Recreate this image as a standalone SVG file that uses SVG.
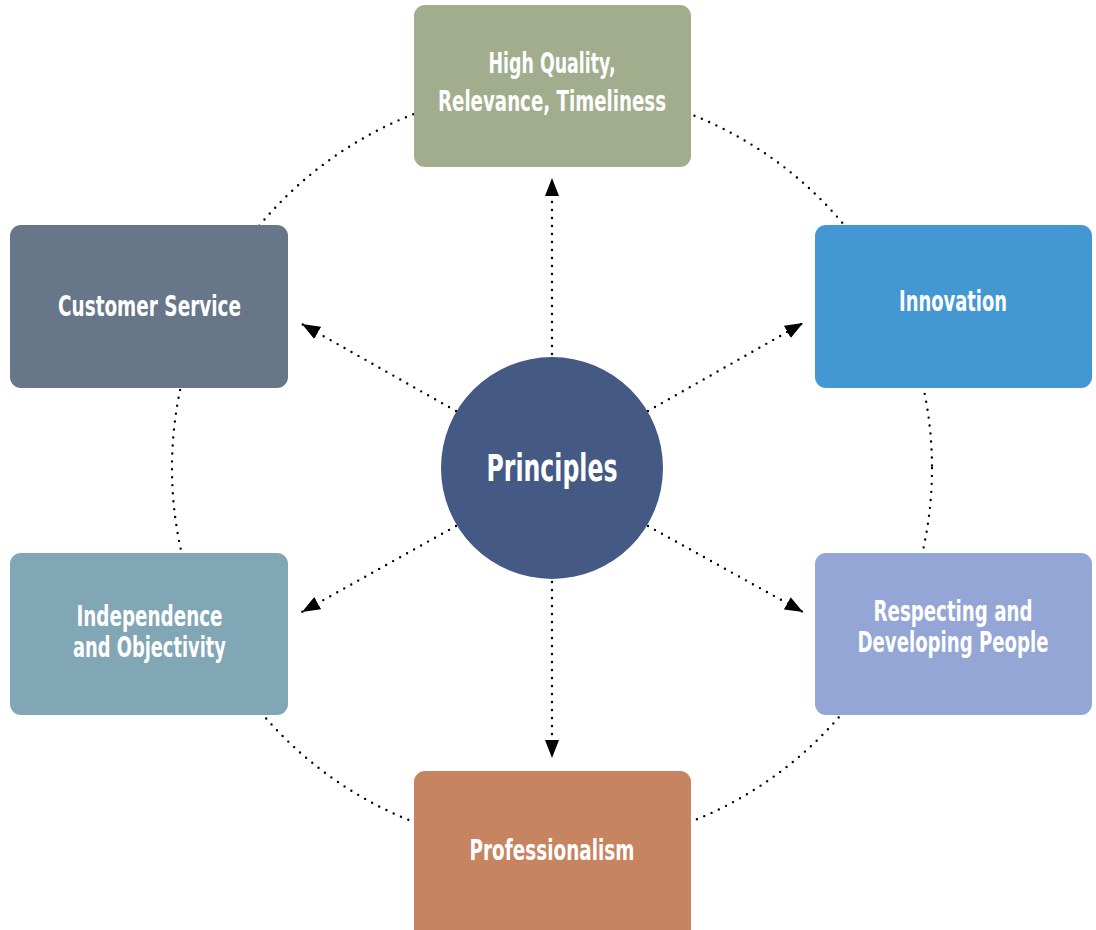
<svg xmlns="http://www.w3.org/2000/svg" width="1096" height="930" viewBox="0 0 1096 930">
<style>
.ring{fill:none;stroke:#000;stroke-width:2.4;stroke-linecap:round;stroke-dasharray:0 8}
.conn{fill:none;stroke:#000;stroke-width:2.4;stroke-linecap:round;stroke-dasharray:0 8}
.lbl{font-family:"DejaVu Sans Condensed","Liberation Sans Narrow","Liberation Sans",sans-serif;font-weight:bold;fill:#fff;text-anchor:middle;font-size:28px}
.big{font-size:37px}
</style>
<defs>
<marker id="ah" viewBox="0 0 18 14" refX="18" refY="7" markerWidth="18" markerHeight="14" markerUnits="userSpaceOnUse" orient="auto">
<path d="M0,0 L18,7 L0,14 Z" fill="#000"/>
</marker>
</defs>
<rect width="1096" height="930" fill="#fff"/>
<g id="connectors">
<circle class="ring" cx="552" cy="468" r="380"/>
<line class="conn" x1="552" y1="354" x2="552" y2="178" marker-end="url(#ah)"/>
<line class="conn" x1="552" y1="582" x2="552" y2="758" marker-end="url(#ah)"/>
<line class="conn" x1="456" y1="411" x2="302" y2="324" marker-end="url(#ah)"/>
<line class="conn" x1="648" y1="411" x2="803" y2="323" marker-end="url(#ah)"/>
<line class="conn" x1="456" y1="526" x2="302" y2="612" marker-end="url(#ah)"/>
<line class="conn" x1="648" y1="526" x2="803" y2="612" marker-end="url(#ah)"/>
</g>
<g id="node-quality">
<rect x="414" y="5" width="277" height="162" rx="11" fill="#A2AD8E"/>
<text class="lbl" x="552" y="73" textLength="127" lengthAdjust="spacingAndGlyphs">High Quality,</text>
<text class="lbl" x="552" y="111" textLength="228" lengthAdjust="spacingAndGlyphs">Relevance, Timeliness</text>
</g>
<g id="node-customer">
<rect x="10" y="225" width="278" height="163" rx="11" fill="#677789"/>
<text class="lbl" x="149.5" y="316" textLength="183" lengthAdjust="spacingAndGlyphs">Customer Service</text>
</g>
<g id="node-innovation">
<rect x="815" y="225" width="277" height="163" rx="11" fill="#4398D3"/>
<text class="lbl" x="953" y="311" textLength="108" lengthAdjust="spacingAndGlyphs">Innovation</text>
</g>
<g id="node-principles">
<circle cx="552" cy="468" r="111" fill="#455985"/>
<text class="lbl big" x="552" y="481" textLength="131" lengthAdjust="spacingAndGlyphs">Principles</text>
</g>
<g id="node-independence">
<rect x="10" y="553" width="278" height="162" rx="11" fill="#81A6B5"/>
<text class="lbl" x="149.5" y="626" textLength="146" lengthAdjust="spacingAndGlyphs">Independence</text>
<text class="lbl" x="149.5" y="657" textLength="153" lengthAdjust="spacingAndGlyphs">and Objectivity</text>
</g>
<g id="node-respecting">
<rect x="815" y="553" width="277" height="162" rx="11" fill="#93A6D5"/>
<text class="lbl" x="953" y="621" textLength="159" lengthAdjust="spacingAndGlyphs">Respecting and</text>
<text class="lbl" x="953" y="652" textLength="191" lengthAdjust="spacingAndGlyphs">Developing People</text>
</g>
<g id="node-professionalism">
<rect x="414" y="771" width="277" height="175" rx="11" fill="#C68461"/>
<text class="lbl" x="552" y="860" textLength="165" lengthAdjust="spacingAndGlyphs">Professionalism</text>
</g>
</svg>
